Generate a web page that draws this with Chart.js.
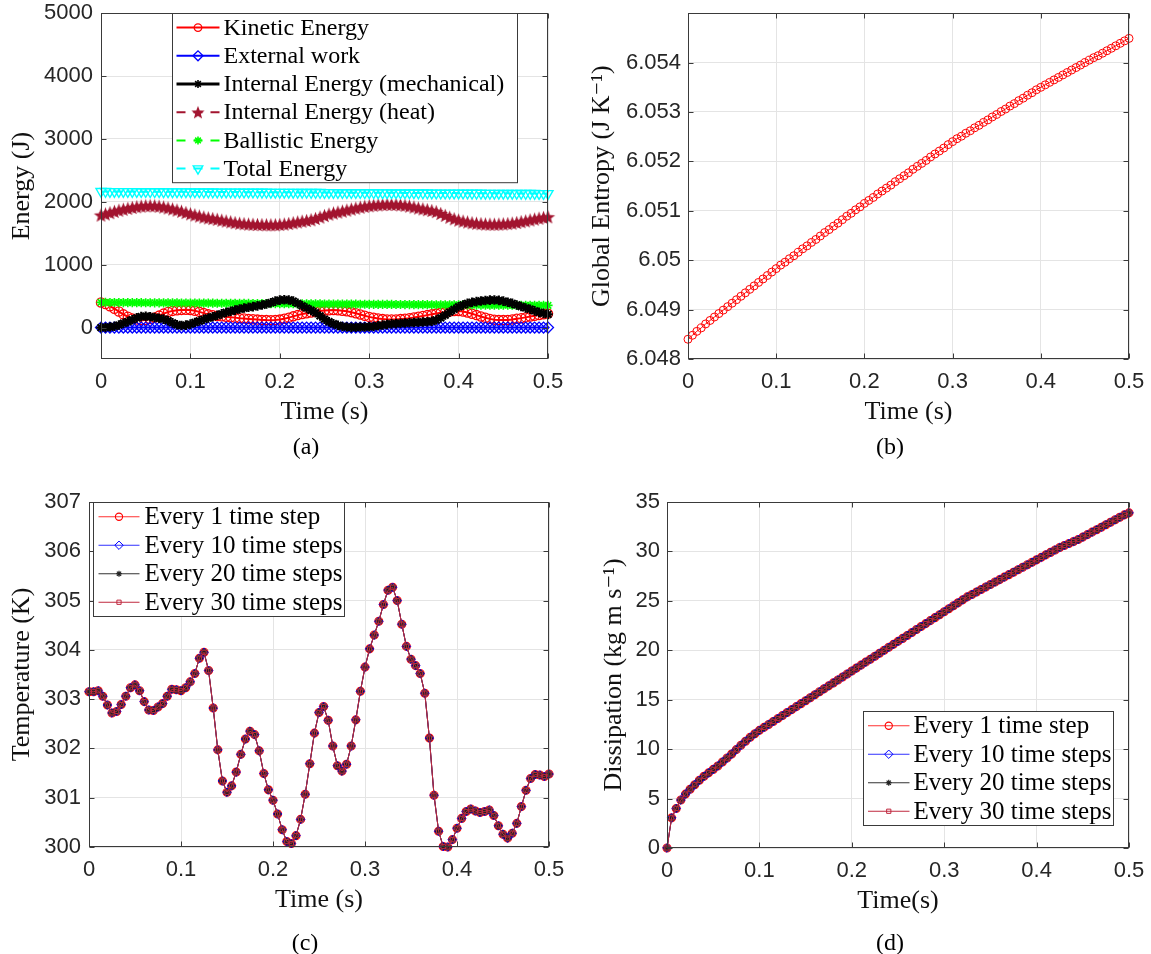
<!DOCTYPE html>
<html><head><meta charset="utf-8">
<script src="https://cdn.jsdelivr.net/npm/chart.js@4.4.1/dist/chart.umd.min.js"></script>
<style>
html,body{margin:0;padding:0;background:#fff;width:1151px;height:954px;overflow:hidden;position:relative}
canvas{position:absolute}
.cap{position:absolute;font-family:"Liberation Serif","DejaVu Serif",serif;font-size:24px;color:#000;transform:translate(-50%,-50%);white-space:nowrap}
</style></head><body>
<canvas id="ca" width="575" height="470" style="left:0;top:0"></canvas>
<canvas id="cb" width="576" height="470" style="left:575px;top:0"></canvas>
<canvas id="cc" width="575" height="484" style="left:0;top:470px"></canvas>
<canvas id="cd" width="576" height="484" style="left:575px;top:470px"></canvas>
<div class="cap" style="left:306px;top:446px">(a)</div>
<div class="cap" style="left:890px;top:446px">(b)</div>
<div class="cap" style="left:305px;top:942px">(c)</div>
<div class="cap" style="left:890px;top:942px">(d)</div>
<script>
// ---------- data ----------
const time = [0,0.005,0.01,0.015,0.02,0.025,0.03,0.035,0.04,0.045,
0.05,0.055,0.06,0.065,0.07,0.075,0.08,0.085,0.09,0.095,
0.1,0.105,0.11,0.115,0.12,0.125,0.13,0.135,0.14,0.145,
0.15,0.155,0.16,0.165,0.17,0.175,0.18,0.185,0.19,0.195,
0.2,0.205,0.21,0.215,0.22,0.225,0.23,0.235,0.24,0.245,
0.25,0.255,0.26,0.265,0.27,0.275,0.28,0.285,0.29,0.295,
0.3,0.305,0.31,0.315,0.32,0.325,0.33,0.335,0.34,0.345,
0.35,0.355,0.36,0.365,0.37,0.375,0.38,0.385,0.39,0.395,
0.4,0.405,0.41,0.415,0.42,0.425,0.43,0.435,0.44,0.445,
0.45,0.455,0.46,0.465,0.47,0.475,0.48,0.485,0.49,0.495,
0.5];

const timeTickValues = [0,0.1,0.2,0.3,0.4,0.5];
const timeTickLabels = ['0','0.1','0.2','0.3','0.4','0.5'];

const kineticEnergy = [400,375,340,300,255,210,172,145,127,118,
120,135,160,190,222,248,265,276,281,283,
278,268,250,230,210,195,185,178,172,165,
158,150,145,138,132,127,122,119,118,120,
127,140,158,178,198,215,228,240,252,262,
270,276,278,275,268,258,245,228,208,188,
170,155,143,135,130,128,130,135,142,150,
160,172,185,198,210,222,235,246,255,262,
262,255,240,220,198,175,155,138,126,120,
119,122,130,140,150,162,175,188,200,212,
222];

const externalWork = [0,0,0,0,0,0,0,0,0,0,
0,0,0,0,0,0,0,0,0,0,
0,0,0,0,0,0,0,0,0,0,
0,0,0,0,0,0,0,0,0,0,
0,0,0,0,0,0,0,0,0,0,
0,0,0,0,0,0,0,0,0,0,
0,0,0,0,0,0,0,0,0,0,
0,0,0,0,0,0,0,0,0,0,
0,0,0,0,0,0,0,0,0,0,
0,0,0,0,0,0,0,0,0,0,
0];

const internalMechanical = [0,2,8,20,40,68,95,125,155,175,
180,172,160,148,135,110,75,45,32,38,
55,80,105,130,152,172,195,218,240,260,
278,295,310,322,333,345,358,375,395,420,
437,442,438,420,385,345,310,275,235,185,
135,93,60,35,18,8,3,5,8,10,
12,18,28,40,50,58,63,68,72,76,
80,84,88,92,100,120,155,199,245,290,
331,360,385,400,412,422,430,436,438,432,
420,402,385,360,335,312,292,265,242,225,
210];

const internalHeat = [1790,1808,1828,1848,1866,1882,1896,1910,1922,1932,
1938,1940,1938,1930,1918,1903,1887,1869,1850,1830,
1810,1792,1775,1758,1745,1734,1722,1708,1695,1682,
1670,1660,1653,1647,1643,1640,1638,1636,1635,1636,
1640,1647,1656,1668,1680,1692,1703,1715,1735,1758,
1782,1805,1823,1838,1852,1868,1885,1900,1915,1928,
1938,1946,1952,1957,1960,1960,1958,1953,1945,1933,
1918,1902,1888,1875,1862,1845,1815,1785,1756,1730,
1710,1693,1680,1668,1660,1653,1648,1645,1644,1646,
1650,1655,1662,1672,1684,1697,1712,1726,1740,1752,
1762];

const ballisticEnergy = [400,400,399,399,398,398,397,397,396,396,
395,395,394,394,393,393,392,392,391,391,
390,390,389,389,388,388,387,387,386,386,
385,385,384,384,383,383,382,382,381,381,
380,380,379,379,378,378,377,377,376,376,
375,375,374,374,373,373,372,372,371,371,
370,370,369,369,368,368,367,367,366,366,
365,365,364,364,363,363,362,362,361,361,
360,360,359,359,358,358,357,357,357,356,
356,356,355,355,355,354,354,354,353,353,
353];

const totalEnergy = [2165,2165,2164,2164,2164,2163,2163,2163,2162,2162,
2162,2161,2161,2161,2160,2160,2160,2159,2159,2159,
2158,2158,2158,2157,2157,2157,2156,2156,2156,2155,
2155,2155,2154,2154,2154,2153,2153,2153,2152,2152,
2152,2151,2151,2151,2150,2150,2150,2149,2149,2149,
2148,2148,2148,2147,2147,2147,2146,2146,2146,2145,
2145,2145,2144,2144,2144,2143,2143,2143,2142,2142,
2142,2141,2141,2141,2140,2140,2140,2139,2139,2139,
2138,2138,2138,2137,2137,2137,2136,2136,2136,2135,
2135,2135,2134,2134,2134,2133,2133,2133,2132,2132,
2132];

const energyTickValues = [0,1000,2000,3000,4000,5000];
const energyTickLabels = ['0','1000','2000','3000','4000','5000'];

const globalEntropy = [6.04840,6.04848,6.04856,6.04863,6.04871,6.04878,6.04885,6.04892,6.04899,6.04906,
6.04913,6.04920,6.04927,6.04934,6.04941,6.04948,6.04955,6.04962,6.04969,6.04976,
6.04983,6.04990,6.04996,6.05003,6.05009,6.05016,6.05023,6.05029,6.05036,6.05042,
6.05049,6.05056,6.05062,6.05069,6.05075,6.05082,6.05089,6.05095,6.05102,6.05108,
6.05115,6.05121,6.05127,6.05134,6.05140,6.05146,6.05152,6.05159,6.05165,6.05171,
6.05177,6.05184,6.05190,6.05196,6.05202,6.05209,6.05215,6.05221,6.05227,6.05234,
6.05240,6.05246,6.05251,6.05257,6.05262,6.05268,6.05273,6.05279,6.05284,6.05290,
6.05295,6.05301,6.05306,6.05312,6.05317,6.05323,6.05328,6.05334,6.05339,6.05345,
6.05350,6.05355,6.05360,6.05365,6.05370,6.05375,6.05380,6.05385,6.05390,6.05395,
6.05400,6.05405,6.05410,6.05414,6.05419,6.05424,6.05429,6.05434,6.05439,6.05444,
6.05449];

const entropyTickValues = [6.048,6.049,6.050,6.051,6.052,6.053,6.054];
const entropyTickLabels = ['6.048','6.049','6.05','6.051','6.052','6.053','6.054'];

const temperature = [303.15,303.15,303.17,303.06,302.88,302.72,302.75,302.89,303.06,303.23,
303.29,303.17,302.95,302.78,302.77,302.84,302.91,303.06,303.20,303.19,
303.17,303.23,303.35,303.52,303.83,303.95,303.58,302.82,301.97,301.34,
301.11,301.24,301.52,301.88,302.19,302.35,302.28,301.95,301.49,301.16,
300.95,300.67,300.35,300.11,300.07,300.23,300.56,301.07,301.69,302.31,
302.73,302.85,302.57,302.05,301.65,301.54,301.68,302.05,302.58,303.16,
303.65,304.02,304.30,304.58,304.92,305.21,305.27,305.00,304.52,304.07,
303.81,303.68,303.52,303.12,302.21,301.05,300.32,300.01,300.00,300.15,
300.38,300.58,300.72,300.77,300.73,300.70,300.72,300.75,300.64,300.43,
300.26,300.18,300.28,300.48,300.82,301.15,301.39,301.47,301.46,301.43,
301.48];

const temperatureTickValues = [300,301,302,303,304,305,306,307];
const temperatureTickLabels = ['300','301','302','303','304','305','306','307'];

const dissipation = [0,3.05,4.0,4.85,5.45,5.95,6.4,6.85,7.25,7.6,
7.95,8.3,8.7,9.1,9.5,9.95,10.4,10.8,11.2,11.55,
11.9,12.2,12.5,12.8,13.1,13.4,13.7,14.0,14.3,14.6,
14.9,15.2,15.5,15.8,16.1,16.4,16.7,17.0,17.3,17.6,
17.9,18.2,18.5,18.8,19.1,19.4,19.7,20.0,20.3,20.6,
20.9,21.2,21.5,21.8,22.1,22.4,22.7,23.0,23.3,23.6,
23.9,24.2,24.5,24.8,25.1,25.4,25.65,25.9,26.15,26.4,
26.65,26.9,27.15,27.4,27.65,27.9,28.15,28.4,28.65,28.9,
29.15,29.4,29.65,29.9,30.15,30.4,30.6,30.8,31.0,31.2,
31.45,31.7,31.95,32.2,32.45,32.7,32.95,33.2,33.45,33.7,
33.9];

const dissipationTickValues = [0,5,10,15,20,25,30,35];
const dissipationTickLabels = ['0','5','10','15','20','25','30','35'];

const energyLabels = ['Kinetic Energy','External work','Internal Energy (mechanical)','Internal Energy (heat)','Ballistic Energy','Total Energy'];
const samplingLabels = ['Every 1 time step','Every 10 time steps','Every 20 time steps','Every 30 time steps'];

// ---------- styling helpers ----------
const SANS = '"Liberation Sans", Arial, sans-serif';
const SERIF = '"Liberation Serif", "DejaVu Serif", serif';
const TICK_COLOR = '#262626';
const GRID_COLOR = '#e4e4e4';
const NONE = 'rgba(0,0,0,0)';
const TICK_SIZE = 22;

function pts(ys){ return time.map((t,i)=>({x:t, y:ys[i]})); }

function makeStar(color, R){
  const c = document.createElement('canvas');
  const s = Math.ceil(2*R+2);
  c.width = s; c.height = s;
  const g = c.getContext('2d');
  g.translate(s/2, s/2 + R*0.1);
  g.beginPath();
  for (let k=0;k<10;k++){
    const r = (k%2===0) ? R : R*0.42;
    const a = -Math.PI/2 + k*Math.PI/5;
    const px = r*Math.cos(a), py = r*Math.sin(a);
    if (k===0) g.moveTo(px,py); else g.lineTo(px,py);
  }
  g.closePath();
  g.fillStyle = color; g.fill();
  return c;
}

function fallbackDrawPoint(ctx, o, x, y){
  const st = o.pointStyle, r = o.radius;
  if (st && typeof st === 'object'){ ctx.drawImage(st, x-st.width/2, y-st.height/2); return; }
  ctx.save(); ctx.translate(x,y); ctx.rotate((o.rotation||0)*Math.PI/180);
  ctx.beginPath();
  if (st==='circle'){ ctx.arc(0,0,r,0,2*Math.PI); }
  else if (st==='rectRot'){ ctx.moveTo(0,-r); ctx.lineTo(r,0); ctx.lineTo(0,r); ctx.lineTo(-r,0); ctx.closePath(); }
  else if (st==='rect'){ const h=r*0.7071; ctx.rect(-h,-h,2*h,2*h); }
  else if (st==='triangle'){ ctx.moveTo(0,-r); ctx.lineTo(r*0.866,r*0.5); ctx.lineTo(-r*0.866,r*0.5); ctx.closePath(); }
  else if (st==='star'){ for(let k=0;k<4;k++){ const a=k*Math.PI/4; ctx.moveTo(-r*Math.cos(a),-r*Math.sin(a)); ctx.lineTo(r*Math.cos(a),r*Math.sin(a)); } }
  ctx.fill(); ctx.stroke(); ctx.restore();
}
function drawMarker(ctx, o, x, y){
  if (window.Chart && Chart.helpers && Chart.helpers.drawPoint) Chart.helpers.drawPoint(ctx, o, x, y);
  else fallbackDrawPoint(ctx, o, x, y);
}

// MATLAB-like box with inward ticks
const framePlugin = {
  id: 'matFrame',
  afterDatasetsDraw(chart){
    const {ctx, chartArea:a, scales} = chart;
    const L = Math.round(a.left)+0.5, R = Math.round(a.right)-0.5, T = Math.round(a.top)+0.5, B = Math.round(a.bottom)-0.5;
    ctx.save();
    ctx.strokeStyle = '#3a3a3a'; ctx.lineWidth = 1; ctx.setLineDash([]);
    ctx.beginPath();
    const tl = 5;
    scales.x.ticks.forEach(t=>{
      const p = Math.round(scales.x.getPixelForValue(t.value))+0.5;
      ctx.moveTo(p,B); ctx.lineTo(p,B-tl); ctx.moveTo(p,T); ctx.lineTo(p,T+tl);
    });
    scales.y.ticks.forEach(t=>{
      const p = Math.round(scales.y.getPixelForValue(t.value))+0.5;
      ctx.moveTo(L,p); ctx.lineTo(L+tl,p); ctx.moveTo(R,p); ctx.lineTo(R-tl,p);
    });
    ctx.stroke();
    ctx.strokeRect(L, T, R-L, B-T);
    ctx.restore();
  }
};

// legend box drawn inside the axes, like MATLAB
const legendPlugin = {
  id: 'matLegend',
  afterDraw(chart, args, o){
    if (!o || !o.show) return;
    const {ctx, chartArea:a} = chart;
    const dss = chart.data.datasets;
    const x0 = Math.round(a.left + o.left)+0.5, y0 = Math.round(a.top + o.top)+0.5;
    const h = o.rowH*dss.length;
    ctx.save();
    ctx.fillStyle = '#fff'; ctx.fillRect(x0, y0, o.width, h);
    ctx.strokeStyle = '#3a3a3a'; ctx.lineWidth = 1; ctx.strokeRect(x0, y0, o.width, h);
    dss.forEach((d,i)=>{
      const cy = y0 + o.rowH*(i+0.5);
      ctx.strokeStyle = d.borderColor; ctx.lineWidth = d.borderWidth;
      ctx.setLineDash(d.legendDash || []);
      ctx.beginPath(); ctx.moveTo(x0+o.lineX0, cy); ctx.lineTo(x0+o.lineX1, cy); ctx.stroke();
      ctx.setLineDash([]);
      ctx.fillStyle = d.pointBackgroundColor; ctx.strokeStyle = d.pointBorderColor; ctx.lineWidth = d.legendBorderWidth || d.pointBorderWidth;
      const lr = d.legendRadius || d.pointRadius;
      drawMarker(ctx, {pointStyle:d.legendStyle || d.pointStyle, radius:lr, rotation:d.pointRotation||0, borderWidth:d.pointBorderWidth}, x0+(o.lineX0+o.lineX1)/2, cy);
      ctx.fillStyle = '#000';
      ctx.font = o.fontSize + 'px ' + SERIF;
      ctx.textBaseline = 'middle'; ctx.textAlign = 'left';
      ctx.fillText(d.label, x0+o.textX, cy+1);
    });
    ctx.restore();
  }
};

function makeChart(id, g, datasets){
  return new Chart(document.getElementById(id), {
    type: 'line',
    data: { datasets },
    plugins: [framePlugin, legendPlugin],
    options: {
      responsive: false, animation: false, devicePixelRatio: 1, events: [],
      layout: { padding: g.pad },
      plugins: { legend:{display:false}, tooltip:{enabled:false}, matLegend: g.legend },
      scales: {
        x: {
          type:'linear', min:0, max:0.5,
          afterBuildTicks: s => { s.ticks = timeTickValues.map(v=>({value:v})); },
          afterFit: s => { s.height = g.xH; },
          grid: { color: GRID_COLOR, lineWidth: 1, drawTicks:true, tickLength:10, tickColor:NONE },
          border: { display:false },
          ticks: { autoSkip:false, maxRotation:0, padding: 0, color: TICK_COLOR, font:{family:SANS, size:TICK_SIZE}, callback:(v,i)=>timeTickLabels[i] },
          title: { display:true, text:g.xTitle, color:'#111', font:{family:SERIF, size:26}, padding:{top:0, bottom:0} }
        },
        y: {
          type:'linear', min:g.yMin, max:g.yMax,
          afterBuildTicks: s => { s.ticks = g.yVals.map(v=>({value:v})); },
          afterFit: s => { s.width = g.yW; },
          grid: { color: GRID_COLOR, lineWidth: 1, drawTicks:true, tickLength:g.yPad, tickColor:NONE },
          border: { display:false },
          ticks: { autoSkip:false, padding: 0, color: TICK_COLOR, font:{family:SANS, size:TICK_SIZE}, callback:(v,i)=>g.yLabels[i] },
          title: { display:true, text:g.yTitle, color:'#111', font:{family:SERIF, size:26}, padding:{top:g.yTitlePad, bottom:0} }
        }
      }
    }
  });
}

function line(label, ys, o){
  return Object.assign({ label, data: pts(ys), clip:false, tension:0, fill:false, spanGaps:true }, o);
}

// ---------- (a) energy ----------
const heatStar = makeStar('#A2142F', 7.5);
const heatStarLegend = makeStar('#A2142F', 7);
makeChart('ca', {
  pad:{left:0, top:13, right:27, bottom:42}, yW:101, xH:69, yPad:8, yTitlePad:6.9,
  yMin:-500, yMax:5000, yVals:energyTickValues, yLabels:energyTickLabels,
  xTitle:'Time (s)', yTitle:'Energy (J)',
  legend:{show:true, left:71, top:0, width:345, rowH:28.2, lineX0:4, lineX1:47, textX:51, fontSize:24}
}, [
  line(energyLabels[0], kineticEnergy, {borderColor:'#ff0000', borderWidth:2, pointStyle:'circle', pointRadius:4.6, legendRadius:3.8, pointBorderColor:'#ff0000', pointBackgroundColor:NONE, pointBorderWidth:1.3, order:5}),
  line(energyLabels[1], externalWork, {borderColor:'#0000ff', borderWidth:2, pointStyle:'rectRot', pointRadius:5.5, legendRadius:5, pointBorderColor:'#0000ff', pointBackgroundColor:NONE, pointBorderWidth:1.3, order:4}),
  line(energyLabels[2], internalMechanical, {borderColor:'#000000', borderWidth:3, pointStyle:'star', pointRadius:4.8, legendRadius:4, legendBorderWidth:1.6, pointBorderColor:'#000000', pointBackgroundColor:'#000000', pointBorderWidth:2.2, order:0}),
  line(energyLabels[3], internalHeat, {borderColor:'#A2142F', borderWidth:2, borderDash:[8,5], legendDash:[9,8], pointStyle:heatStar, legendStyle:heatStarLegend, pointRadius:7, pointBorderColor:'#A2142F', pointBackgroundColor:'#A2142F', pointBorderWidth:1, order:3}),
  line(energyLabels[4], ballisticEnergy, {borderColor:'#00ff00', borderWidth:2, borderDash:[8,5], legendDash:[9,8], pointStyle:'star', pointRadius:4.6, legendRadius:4, pointBorderColor:'#00ff00', pointBackgroundColor:NONE, pointBorderWidth:1.6, order:2}),
  line(energyLabels[5], totalEnergy, {borderColor:'#00ffff', borderWidth:2, borderDash:[8,5], legendDash:[9,8], pointStyle:'triangle', pointRotation:180, pointRadius:5.8, legendRadius:5.5, pointBorderColor:'#00ffff', pointBackgroundColor:NONE, pointBorderWidth:1.4, order:1})
]);

// ---------- (b) entropy ----------
makeChart('cb', {
  pad:{left:0, top:13, right:22, bottom:42}, yW:113, xH:69, yPad:7, yTitlePad:11.4,
  yMin:6.048, yMax:6.055, yVals:entropyTickValues, yLabels:entropyTickLabels,
  xTitle:'Time (s)', yTitle:'Global Entropy (J K\u207B\u00B9)',
  legend:{show:false}
}, [
  line('Global entropy', globalEntropy, {borderColor:'#ff0000', borderWidth:1, pointStyle:'circle', pointRadius:4, pointBorderColor:'#ff0000', pointBackgroundColor:NONE, pointBorderWidth:1})
]);

// ---------- (c) temperature ----------
function samplingSets(ys){
  return [
    line(samplingLabels[0], ys, {borderColor:'#ff3030', borderWidth:1, pointStyle:'circle', pointRadius:4, legendRadius:3.6, pointBorderColor:'#ff0000', pointBackgroundColor:NONE, pointBorderWidth:1.1, order:3}),
    line(samplingLabels[1], ys, {borderColor:'#3030ff', borderWidth:1, pointStyle:'rectRot', pointRadius:4.3, legendRadius:4.2, pointBorderColor:'#0000ff', pointBackgroundColor:NONE, pointBorderWidth:1, order:2}),
    line(samplingLabels[2], ys, {borderColor:'#333333', borderWidth:1, pointStyle:'star', pointRadius:3.6, legendRadius:3, legendBorderWidth:1.2, pointBorderColor:'#222222', pointBackgroundColor:NONE, pointBorderWidth:1.9, order:1}),
    line(samplingLabels[3], ys, {borderColor:'#C0283F', borderWidth:1, pointStyle:'rect', pointRadius:3, legendRadius:3, pointBorderColor:'#C0283F', pointBackgroundColor:NONE, pointBorderWidth:1, order:0})
  ];
}
makeChart('cc', {
  pad:{left:0, top:32, right:26, bottom:38}, yW:89, xH:69, yPad:8, yTitlePad:6.4,
  yMin:300, yMax:307, yVals:temperatureTickValues, yLabels:temperatureTickLabels,
  xTitle:'Time (s)', yTitle:'Temperature (K)',
  legend:{show:true, left:4, top:0, width:251, rowH:28.5, lineX0:5, lineX1:46, textX:51, fontSize:25}
}, samplingSets(temperature));

// ---------- (d) dissipation ----------
makeChart('cd', {
  pad:{left:0, top:32, right:22, bottom:37}, yW:92, xH:69, yPad:7, yTitlePad:23.9,
  yMin:0, yMax:35, yVals:dissipationTickValues, yLabels:dissipationTickLabels,
  xTitle:'Time(s)', yTitle:'Dissipation (kg m s\u207B\u00B9)',
  legend:{show:true, left:196, top:209, width:250, rowH:28.5, lineX0:4.5, lineX1:46, textX:50, fontSize:25}
}, samplingSets(dissipation));
</script>
</body></html>
